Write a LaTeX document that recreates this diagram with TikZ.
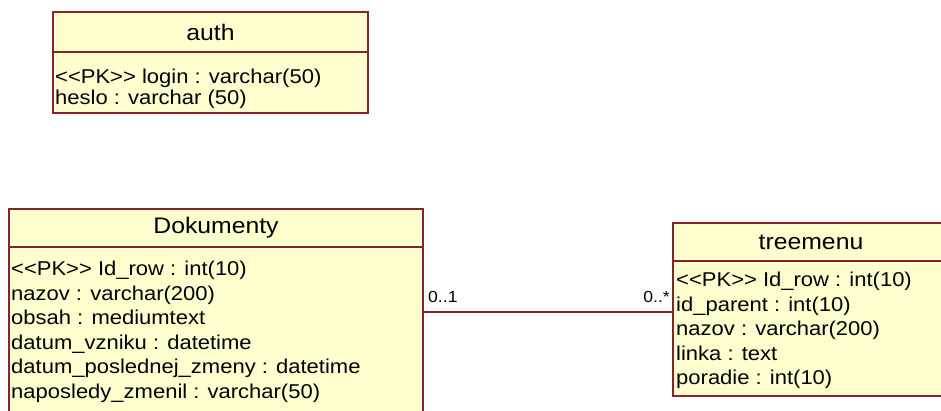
\documentclass[tikz,border=0pt]{standalone}
\usepackage{fontspec}
% Arial-metric sans, widened a little like the old modelling-tool bitmap font
\newfontfamily\umlfont[FakeStretch=1.1,Ligatures=TeXOff]{Liberation Sans}
\definecolor{umlborder}{RGB}{135,35,45}
\definecolor{umlfill}{RGB}{255,255,208}
\begin{document}
\begin{tikzpicture}[x=1pt,y=-1pt,
  compartment/.style={draw=umlborder, fill=umlfill, line width=1.3pt,
    rectangle, inner sep=0pt, outer sep=0pt, anchor=north west},
  classtitle/.style={compartment, font=\umlfont\fontsize{22.5}{26}\selectfont},
  attr/.style={anchor=base west, inner sep=0pt,
    font=\umlfont\fontsize{20}{24}\selectfont},
  mult/.style={inner sep=0pt, font=\umlfont\fontsize{16}{19}\selectfont},
  assoc/.style={draw=umlborder, line width=1.3pt}]
\useasboundingbox (0,0) rectangle (941,410);
\fill[white] (0,0) rectangle (941,410);
\clip (0,0) rectangle (941,410);

% class auth
\node[classtitle, minimum width=315pt, minimum height=40pt] (authHead) at (53,12) {auth};
\node[compartment, minimum width=315pt, minimum height=61pt] (authBody) at (53,52) {};
\node[attr] (authLogin) at (55,83) {<<PK>> login : varchar(50)};
\node[attr] (authHeslo) at (55,104.5) {heslo : varchar (50)};

% class Dokumenty (runs past the lower edge)
\node[classtitle, minimum width=414pt, minimum height=38pt] (dokHead) at (9,209) {Dokumenty};
\node[compartment, minimum width=414pt, minimum height=190pt] (dokBody) at (9,247) {};
\node[attr] (dokIdRow) at (11,275.5) {<<PK>> Id\_row : int(10)};
\node[attr] (dokNazov) at (11,300) {nazov : varchar(200)};
\node[attr] (dokObsah) at (11,324.5) {obsah : mediumtext};
\node[attr] (dokVznik) at (11,349) {datum\_vzniku : datetime};
\node[attr] (dokZmena) at (11,373.5) {datum\_poslednej\_zmeny : datetime};
\node[attr] (dokZmenil) at (11,398) {naposledy\_zmenil : varchar(50)};

% class treemenu (runs past the right edge)
\node[classtitle, minimum width=276pt, minimum height=38pt] (treeHead) at (673,223) {treemenu};
\node[compartment, minimum width=276pt, minimum height=135pt] (treeBody) at (673,261) {};
\node[attr] (treeIdRow) at (676,286.5) {<<PK>> Id\_row : int(10)};
\node[attr] (treeParent) at (676,311) {id\_parent : int(10)};
\node[attr] (treeNazov) at (676,335.5) {nazov : varchar(200)};
\node[attr] (treeLinka) at (676,360) {linka : text};
\node[attr] (treePoradie) at (676,384.5) {poradie : int(10)};

% association Dokumenty -- treemenu
\coordinate (assocLevel) at (0,312);
\draw[assoc] (dokBody.east |- assocLevel) -- (treeBody.west |- assocLevel);
\node[mult, anchor=base west] (multDok) at (428,302) {0..1};
\node[mult, anchor=base east] (multTree) at (670,302) {0..*};
\end{tikzpicture}
\end{document}
